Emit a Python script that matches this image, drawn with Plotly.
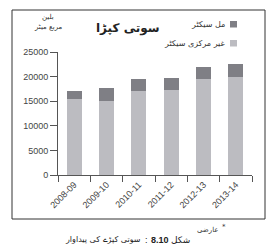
import plotly.graph_objects as go

years = ["2008-09", "2009-10", "2010-11", "2011-12", "2012-13", "2013-14"]
decentralized = [15400, 15100, 17000, 17300, 19600, 20000]   # غیر مرکزی سیکٹر
mill = [1700, 2500, 2500, 2500, 2400, 2500]                   # مل سیکٹر
y_ticks = [0, 5000, 10000, 15000, 20000, 25000]
y_labels = ["0", "5000", "10000", "15000", "20000", "25000"]

LIGHT = "#bcbcc1"
DARK = "#7f7f85"
AX = "#555555"
FONT = "DejaVu Sans"
NUMFONT = "Liberation Sans"

fig = go.Figure()
fig.add_trace(go.Bar(x=years, y=decentralized, marker_color=LIGHT, width=0.46,
                     marker_line_width=0, name="غیر مرکزی سیکٹر"))
fig.add_trace(go.Bar(x=years, y=mill, marker_color=DARK, width=0.46,
                     marker_line_width=0, name="مل سیکٹر"))

L, R, T, B = 58, 18, 52, 72
W, H = 270, 247
pw, ph = W - L - R, H - T - B

def px(x):
    return (x - L) / pw

def py(y):
    return (H - B - y) / ph

fig.update_layout(
    width=W, height=H, barmode="stack", showlegend=False,
    margin=dict(l=L, r=R, t=T, b=B, pad=0),
    paper_bgcolor="white", plot_bgcolor="white",
    font=dict(family=FONT, color="#333333", size=9),
    xaxis=dict(type="category", showline=True, linecolor=AX, linewidth=1,
               ticks="outside", tickson="boundaries", ticklen=6, tickcolor=AX,
               tickangle=-45, tickfont=dict(size=9, family=NUMFONT, color="#444444"),
               showgrid=False, zeroline=False, range=[-0.5, 5.5]),
    yaxis=dict(range=[0, 25000], tickvals=y_ticks, ticktext=y_labels, showline=True,
               linecolor=AX, linewidth=1, ticks="outside", ticklen=7, tickcolor=AX,
               tickfont=dict(size=9, family=NUMFONT, color="#444444"),
               showgrid=False, zeroline=False),
)

# outer frame
fig.add_shape(type="rect", xref="paper", yref="paper",
              x0=px(12), x1=px(265), y0=py(219), y1=py(10),
              line=dict(color="#333333", width=1))

# legend (RTL: text left of the swatch)
fig.add_shape(type="rect", xref="paper", yref="paper",
              x0=px(230), x1=px(237), y0=py(27.5), y1=py(21),
              fillcolor=DARK, line_width=0)
fig.add_shape(type="rect", xref="paper", yref="paper",
              x0=px(230), x1=px(237), y0=py(46.5), y1=py(40),
              fillcolor=LIGHT, line_width=0)

def note(x, y, text, size, anchor="center", color="#333333", family=FONT):
    fig.add_annotation(xref="paper", yref="paper", x=px(x), y=py(y), text=text,
                       showarrow=False, xanchor=anchor, yanchor="middle", borderpad=0,
                       font=dict(size=size, family=family, color=color))

note(226, 24.5, "مل سیکٹر", 8, "right")
note(226, 43.5, "غیر مرکزی سیکٹر", 8, "right")

# title
note(128, 29, "<b>سوتی کپڑا</b>", 12, "center", "#222222")

# unit label
note(48, 17, "بلین", 7)
note(48, 27, "مربع میٹر", 7)

# captions
note(219, 230, "عارضی", 7, "right")
note(224, 227, "*", 7, "center")
note(191, 240, "شکل", 9, "right", "#222222")
note(160, 240, "<b>8.10</b>", 9, "center", "#222222", NUMFONT)
note(146, 240, ":", 9, "center", "#222222", NUMFONT)
note(142, 240, "سوتی کپڑے کی پیداوار", 8, "right", "#222222")

fig.write_html("out.html")
